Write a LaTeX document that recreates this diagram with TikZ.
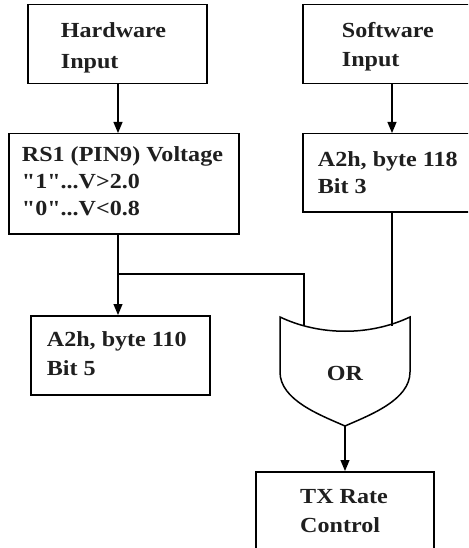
\documentclass[tikz,border=0pt]{standalone}
\usepackage{fontspec}
\setmainfont{Liberation Serif}[Ligatures=TeXOff]
\usepackage{graphicx}
\usetikzlibrary{arrows.meta}
\newcommand\boxtxt[2]{\scalebox{1.12}[1]{\fontsize{21.5}{#1}\selectfont\bfseries\begin{tabular}[t]{@{}l@{}}#2\end{tabular}}}
\begin{document}
\begin{tikzpicture}[x=1pt,y=-1pt,
  blk/.style={draw, line width=1.5pt, inner sep=0pt, anchor=north west},
  lbl/.style={anchor=base west, inner sep=0pt, text=black!88},
  wire/.style={line width=1.15pt},
  arr/.style={wire, -{Triangle[length=11pt,width=9pt]}},
  gate/.style={line width=1.5pt}]
\useasboundingbox (0,0) rectangle (468,548);
\clip (0,0) rectangle (468,548);
% boxes
\node[blk, minimum width=179pt, minimum height=79pt] (hw) at (27,4) {};
\node[blk, minimum width=172pt, minimum height=79pt] (sw) at (302,4) {};
\node[blk, minimum width=230pt, minimum height=100pt] (rs1) at (8,133) {};
\node[blk, minimum width=172pt, minimum height=78pt] (a118) at (302,133) {};
\node[blk, minimum width=179pt, minimum height=79pt] (a110) at (30,315) {};
\node[blk, minimum width=178pt, minimum height=85pt] (tx) at (255,471) {};
% texts
\node[lbl] (hwt) at (60.7,37.3) {\boxtxt{31}{Hardware\\Input}};
\node[lbl] (swt) at (341.7,37.3) {\boxtxt{29.5}{Software\\Input}};
\node[lbl] (rs1t) at (21.7,161.7) {\boxtxt{26.7}{RS1 (PIN9) Voltage\\"1"...V>2.0\\"0"...V<0.8}};
\node[lbl] (a118t) at (317.7,166.7) {\boxtxt{26.7}{A2h, byte 118\\Bit 3}};
\node[lbl] (a110t) at (46.7,346.7) {\boxtxt{28.3}{A2h, byte 110\\Bit 5}};
\node[lbl] (txt) at (300,503.3) {\boxtxt{29.4}{TX Rate\\Control}};
% coordinates
\coordinate (jn) at (118,274);
\coordinate (swx) at (392,0);
\coordinate (inL) at (304,326);
\coordinate (inR) at (392,326);
\coordinate (orout) at (345,426);
% connectors
\draw[arr] (jn |- hw.south) -- (jn |- rs1.north);
\draw[arr] (swx |- sw.south) -- (swx |- a118.north);
\draw[wire] (jn |- rs1.south) -- (jn) -| (inL);
\draw[arr] (jn) -- (jn |- a110.north);
\draw[wire] (swx |- a118.south) -- (inR);
\draw[arr] (orout) -- (orout |- tx.north);
% OR gate
\draw[gate] (280,317) .. controls (320,336) and (370,336) .. (410,317)
  -- (410,372) .. controls (410,400) and (370,415) .. (orout)
  .. controls (320,415) and (280,400) .. (280,372) -- cycle;
\node[lbl, anchor=base] (orlbl) at (345,380) {\boxtxt{26}{OR}};
\end{tikzpicture}
\end{document}
